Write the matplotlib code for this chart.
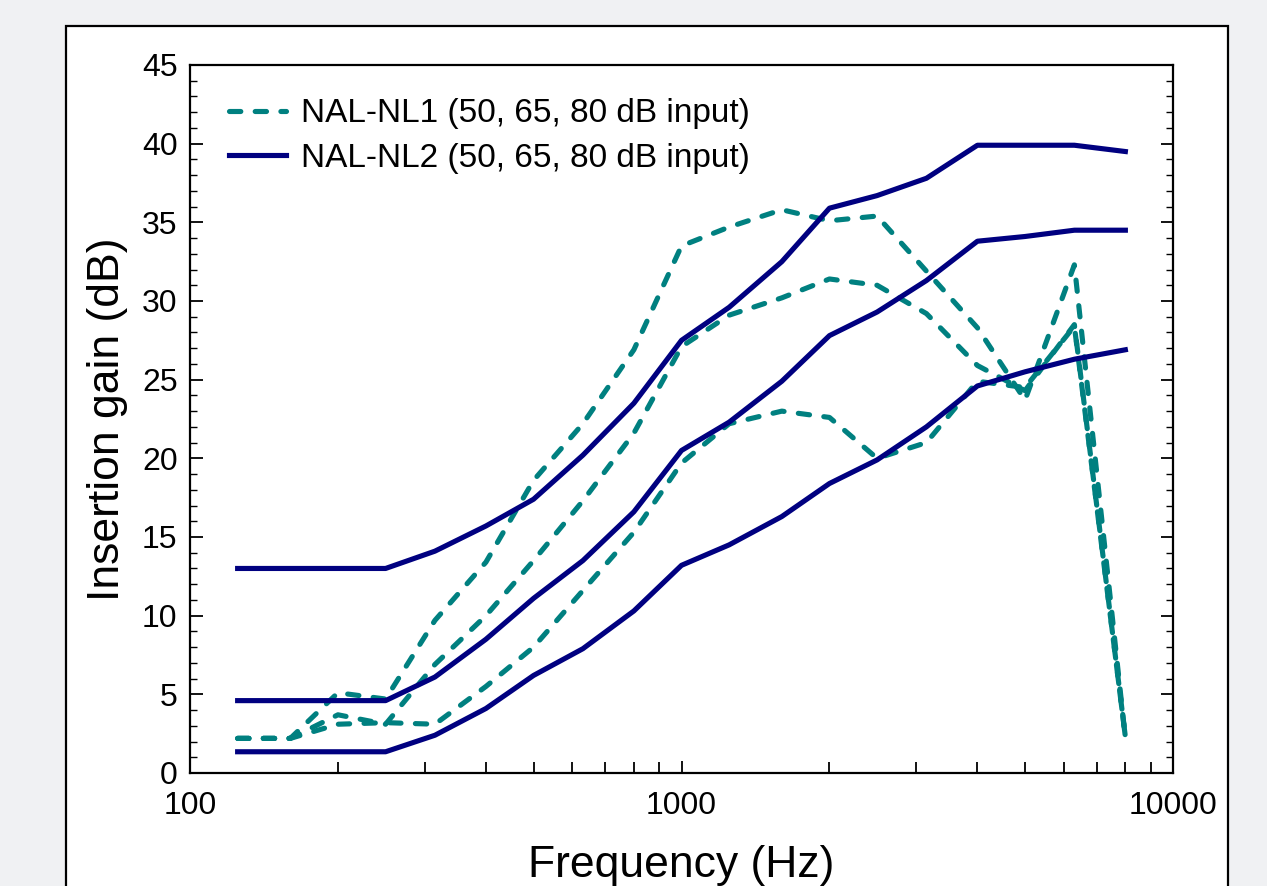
import numpy as np
import matplotlib.pyplot as plt
from matplotlib.patches import Rectangle
from matplotlib.ticker import FixedLocator, NullFormatter

plt.rcParams['font.family'] = ['Liberation Sans', 'DejaVu Sans']

# third-octave frequencies (Hz)
freqs = [125, 160, 200, 250, 315, 400, 500, 630, 800, 1000,
         1250, 1600, 2000, 2500, 3150, 4000, 5000, 6300, 8000]

# NAL-NL1 insertion gain (dB) for 50, 65, 80 dB input
nl1_50 = [2.2, 2.2, 5.1, 4.7, 9.7, 13.4, 18.6, 22.2, 26.9, 33.5,
          34.7, 35.8, 35.1, 35.4, 31.9, 28.3, 23.7, 32.3, 2.2]
nl1_65 = [2.2, 2.2, 3.7, 3.1, 6.9, 10.0, 13.5, 17.3, 21.6, 27.1,
          29.1, 30.2, 31.4, 31.0, 29.2, 25.9, 24.3, 28.5, 2.3]
nl1_80 = [2.2, 2.2, 3.1, 3.2, 3.1, 5.5, 8.0, 11.6, 15.3, 19.7,
          22.2, 23.0, 22.6, 20.0, 21.0, 24.9, 24.5, 28.4, 2.3]

# NAL-NL2 insertion gain (dB) for 50, 65, 80 dB input
nl2_50 = [13.0, 13.0, 13.0, 13.0, 14.1, 15.7, 17.4, 20.2, 23.5, 27.5,
          29.6, 32.5, 35.9, 36.7, 37.8, 39.9, 39.9, 39.9, 39.5]
nl2_65 = [4.6, 4.6, 4.6, 4.6, 6.1, 8.5, 11.1, 13.5, 16.6, 20.5,
          22.3, 24.9, 27.8, 29.3, 31.3, 33.8, 34.1, 34.5, 34.5]
nl2_80 = [1.35, 1.35, 1.35, 1.35, 2.4, 4.1, 6.2, 7.9, 10.3, 13.2,
          14.5, 16.3, 18.4, 19.9, 22.0, 24.6, 25.5, 26.3, 26.9]

teal = '#008080'
navy = '#000080'

fig = plt.figure(figsize=(12.67, 8.86), dpi=100)
fig.patch.set_facecolor('#f0f1f3')

# white panel with black border behind the plot
panel = Rectangle((66 / 1267, -0.2), (1228 - 66) / 1267, 1 - 26 / 886 + 0.2,
                  transform=fig.transFigure, facecolor='white',
                  edgecolor='black', linewidth=1.6, zorder=-10)
fig.patches.append(panel)

ax = fig.add_axes([190 / 1267, 1 - 773 / 886, (1173 - 190) / 1267, (773 - 65) / 886])
ax.set_zorder(1)
ax.set_facecolor('white')

dash = (0, (2.2, 2.8))
for i, g in enumerate([nl1_50, nl1_65, nl1_80]):
    ax.plot(freqs, g, color=teal, lw=3.7, linestyle=dash,
            dash_capstyle='round',
            label='NAL-NL1 (50, 65, 80 dB input)' if i == 0 else None)
for i, g in enumerate([nl2_50, nl2_65, nl2_80]):
    ax.plot(freqs, g, color=navy, lw=3.7,
            label='NAL-NL2 (50, 65, 80 dB input)' if i == 0 else None)

ax.set_xscale('log')
ax.set_xlim(100, 10000)
ax.set_ylim(0, 45)

ax.xaxis.set_major_locator(FixedLocator([100, 1000, 10000]))
ax.xaxis.set_minor_locator(FixedLocator(list(range(200, 1000, 100)) + list(range(2000, 10000, 1000))))
ax.xaxis.set_minor_formatter(NullFormatter())
ax.set_xticklabels(['100', '1000', '10000'])
ax.set_yticks(np.arange(0, 46, 5))
ax.yaxis.set_minor_locator(FixedLocator(np.arange(0, 46, 1)))

ax.tick_params(axis='both', which='both', direction='in', labelsize=23)
ax.tick_params(axis='y', which='major', length=9, width=1.3, left=True, right=True, pad=9)
ax.tick_params(axis='y', which='minor', length=5, width=1, left=True, right=True)
ax.tick_params(axis='x', which='major', length=9, width=1.3, top=False, pad=13)
ax.tick_params(axis='x', which='minor', length=8, width=1.3, top=False)
for s in ax.spines.values():
    s.set_linewidth(1.6)

ax.set_xlabel('Frequency (Hz)', fontsize=32, labelpad=17)
ax.set_ylabel('Insertion gain (dB)', fontsize=32, labelpad=10)

ax.legend(loc='upper left', bbox_to_anchor=(0.006, 1.0), frameon=False,
          fontsize=24, handlelength=1.7, handletextpad=0.45,
          labelspacing=0.4, borderaxespad=0.6)

fig.savefig('out.png', dpi=100, facecolor=fig.get_facecolor())
